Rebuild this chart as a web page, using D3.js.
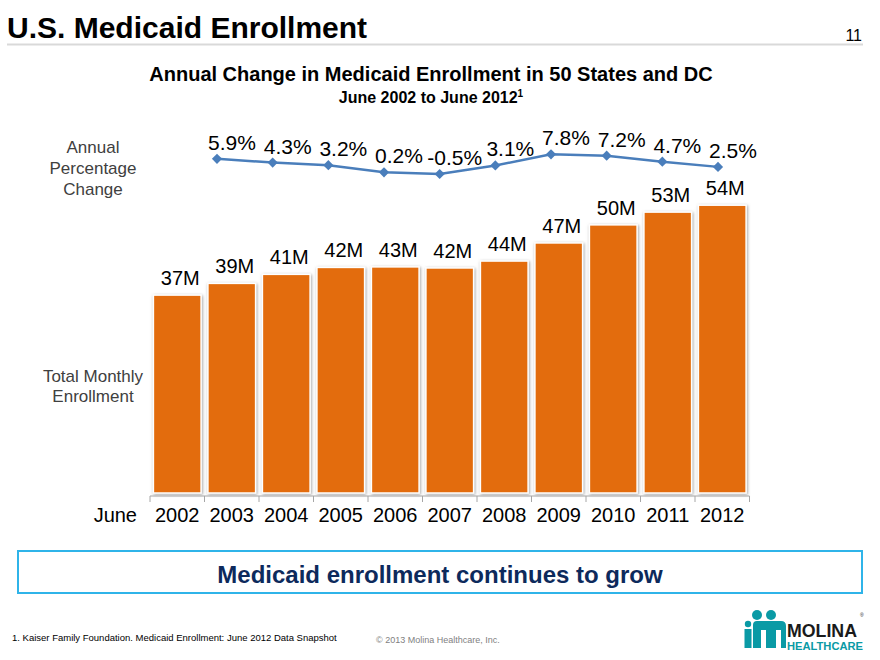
<!DOCTYPE html>
<html>
<head>
<meta charset="utf-8">
<script src="https://cdn.jsdelivr.net/npm/d3@7"></script>
<style>
  html, body { margin: 0; padding: 0; background: #fff; }
  svg { display: block; font-family: "Liberation Sans", Arial, sans-serif; }
</style>
</head>
<body>
<svg id="chart" width="880" height="660"></svg>
<script>
// ---- data ----
const years = ["2002","2003","2004","2005","2006","2007","2008","2009","2010","2011","2012"];
const enrollment = [37.2, 39.4, 41.1, 42.4, 42.5, 42.3, 43.6, 47.0, 50.4, 52.8, 54.1];
const enrollmentLabels = ["37M","39M","41M","42M","43M","42M","44M","47M","50M","53M","54M"];
const changeYears = ["2003","2004","2005","2006","2007","2008","2009","2010","2011","2012"];
const pctChange = [5.9, 4.3, 3.2, 0.2, -0.5, 3.1, 7.8, 7.2, 4.7, 2.5];
const pctLabels = ["5.9%","4.3%","3.2%","0.2%","-0.5%","3.1%","7.8%","7.2%","4.7%","2.5%"];

const svg = d3.select("#chart");

// defs: shadow
const defs = svg.append("defs");
const f = defs.append("filter").attr("id","shadow").attr("x","-20%").attr("y","-20%").attr("width","140%").attr("height","140%");
f.append("feDropShadow").attr("dx",0.8).attr("dy",1).attr("stdDeviation",1.4)
  .attr("flood-color","#7f7f7f").attr("flood-opacity",0.75);

// ---- header ----
svg.append("text").attr("x",7).attr("y",38).attr("font-size",30).attr("font-weight","bold")
  .attr("fill","#000").text("U.S. Medicaid Enrollment");
svg.append("line").attr("x1",7).attr("x2",863).attr("y1",44.5).attr("y2",44.5)
  .attr("stroke","#d9d9d9").attr("stroke-width",2);
svg.append("text").attr("x",862).attr("y",41).attr("text-anchor","end").attr("font-size",16)
  .attr("fill","#000").text("11");

svg.append("text").attr("x",431).attr("y",81).attr("text-anchor","middle").attr("font-size",20)
  .attr("font-weight","bold").text("Annual Change in Medicaid Enrollment in 50 States and DC");
const sub = svg.append("text").attr("x",431).attr("y",103).attr("text-anchor","middle")
  .attr("font-size",16).attr("font-weight","bold");
sub.append("tspan").text("June 2002 to June 2012");
sub.append("tspan").attr("font-size",10).attr("dy",-6).text("1");

// ---- scales ----
const x = d3.scaleBand().domain(years).range([150, 749.5]).paddingInner(0.125).paddingOuter(0.0625);
const y = d3.scaleLinear().domain([0, 60]).range([493, 173.8]);
const xp = d3.scalePoint().domain(changeYears).range([217, 718]);
const yp = d3.scaleLinear().domain([-0.5, 7.8]).range([174, 154.3]);

// ---- bars ----
const data = years.map((yr,i)=>({yr, v: enrollment[i], lab: enrollmentLabels[i]}));
svg.append("g").selectAll("rect").data(data).join("rect")
  .attr("x", d=>x(d.yr)).attr("y", d=>y(d.v))
  .attr("width", x.bandwidth()).attr("height", d=>y(0)-y(d.v))
  .attr("fill","#e36c0a").attr("stroke","#ffffff").attr("stroke-width",1.5)
  .attr("filter","url(#shadow)");

svg.append("g").selectAll("text").data(data).join("text")
  .attr("x", d=>x(d.yr)+x.bandwidth()/2+3).attr("y", d=>y(d.v)-10)
  .attr("text-anchor","middle").attr("font-size",20).attr("fill","#000")
  .text(d=>d.lab);

// ---- x axis ----
const axisY = 496;
svg.append("line").attr("x1",x.range()[0]).attr("x2",x.range()[1]).attr("y1",axisY).attr("y2",axisY)
  .attr("stroke","#a6a6a6").attr("stroke-width",1);
const half = (x.step()-x.bandwidth())/2;
const bounds = years.map(yr=>x(yr)-half).concat([x(years[years.length-1])+x.bandwidth()+half]);
svg.append("g").selectAll("line").data(bounds).join("line")
  .attr("x1",d=>d).attr("x2",d=>d).attr("y1",axisY).attr("y2",axisY+6)
  .attr("stroke","#a6a6a6").attr("stroke-width",1);

const ax = svg.append("g").attr("transform",`translate(0,${axisY})`)
  .call(d3.axisBottom(x).tickSize(0).tickPadding(12));
ax.select(".domain").remove();
ax.selectAll("text").attr("font-size",20).attr("fill","#000")
  .attr("font-family","'Liberation Sans', Arial, sans-serif");

svg.append("text").attr("x",137).attr("y",522).attr("text-anchor","end").attr("font-size",20)
  .attr("fill","#000").text("June");

// ---- line ----
const pdata = changeYears.map((yr,i)=>({yr, v: pctChange[i], lab: pctLabels[i]}));
svg.append("path").datum(pdata)
  .attr("d", d3.line().x(d=>xp(d.yr)).y(d=>yp(d.v)))
  .attr("fill","none").attr("stroke","#4a7ebb").attr("stroke-width",2.5);
svg.append("g").selectAll("path").data(pdata).join("path")
  .attr("d", d3.symbol(d3.symbolSquare, 52))
  .attr("transform", d=>`translate(${xp(d.yr)},${yp(d.v)}) rotate(45)`)
  .attr("fill","#4a7ebb");
svg.append("g").selectAll("text").data(pdata).join("text")
  .attr("x", d=>xp(d.yr)+15).attr("y", d=>yp(d.v)-9)
  .attr("text-anchor","middle").attr("font-size",21).attr("fill","#000")
  .text(d=>d.lab);

// ---- left labels ----
const leftTop = svg.append("text").attr("text-anchor","middle").attr("font-size",17).attr("fill","#404040");
["Annual","Percentage","Change"].forEach((t,i)=>leftTop.append("tspan").attr("x",93).attr("y",153+i*21).text(t));
const leftBot = svg.append("text").attr("text-anchor","middle").attr("font-size",17).attr("fill","#404040");
["Total Monthly","Enrollment"].forEach((t,i)=>leftBot.append("tspan").attr("x",93).attr("y",382+i*20).text(t));

// ---- callout box ----
svg.append("rect").attr("x",18).attr("y",551).attr("width",844).attr("height",42)
  .attr("fill","#fff").attr("stroke","#2fb4e9").attr("stroke-width",2);
svg.append("text").attr("x",440).attr("y",583).attr("text-anchor","middle").attr("font-size",24)
  .attr("font-weight","bold").attr("fill","#0d2a5c").text("Medicaid enrollment continues to grow");

// ---- footer ----
svg.append("text").attr("x",12).attr("y",641).attr("font-size",9.5).attr("fill","#000")
  .text("1. Kaiser Family Foundation. Medicaid Enrollment: June 2012 Data Snapshot");
svg.append("text").attr("x",376).attr("y",643).attr("font-size",9).attr("fill","#7f7f7f")
  .text("© 2013 Molina Healthcare, Inc.");

// logo
const teal = "#0a9aa5";
const logo = svg.append("g");
logo.append("circle").attr("cx",748).attr("cy",624).attr("r",3.2).attr("fill",teal);
logo.append("rect").attr("x",744.5).attr("y",629).attr("width",7).attr("height",19).attr("fill",teal);
logo.append("circle").attr("cx",757).attr("cy",615).attr("r",5).attr("fill",teal);
logo.append("circle").attr("cx",771).attr("cy",615).attr("r",5).attr("fill",teal);
logo.append("path").attr("d","M753,648 V625 Q753,621 757,621 H781 Q786,621 786,626 V648 H781 V630 H776 V648 H766 V630 H761 V648 Z").attr("fill",teal);
logo.append("text").attr("x",787).attr("y",637).attr("font-size",19).attr("font-weight","bold")
  .attr("fill","#1a1a1a").attr("textLength",70).attr("lengthAdjust","spacingAndGlyphs").text("MOLINA");
logo.append("text").attr("x",860).attr("y",617).attr("font-size",5).attr("fill","#1a1a1a").text("®");
logo.append("text").attr("x",787).attr("y",650).attr("font-size",10.5).attr("font-weight","bold")
  .attr("fill",teal).attr("textLength",76).attr("lengthAdjust","spacingAndGlyphs").text("HEALTHCARE");
</script>
</body>
</html>
